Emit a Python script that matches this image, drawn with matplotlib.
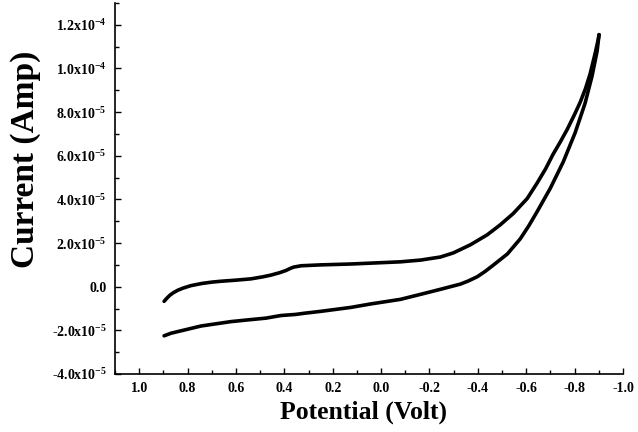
import matplotlib
matplotlib.use("Agg")
import matplotlib.pyplot as plt
from matplotlib.ticker import MultipleLocator, FuncFormatter

# ---- data (potential in V, current in A) ----
potential_fwd = [0.897, 0.885, 0.872, 0.858, 0.840, 0.820, 0.786, 0.740, 0.700,
                 0.662, 0.600, 0.538, 0.490, 0.456, 0.420, 0.394, 0.375, 0.361,
                 0.330, 0.250, 0.126, 0.002, -0.080, -0.163, -0.245, -0.299,
                 -0.369, -0.439, -0.493, -0.546, -0.604, -0.645, -0.680, -0.711,
                 -0.740, -0.769, -0.800, -0.823, -0.845, -0.864, -0.885, -0.897,
                 -0.901]
current_fwd = [-0.67e-5, -0.52e-5, -0.38e-5, -0.27e-5, -0.16e-5, -0.07e-5,
               0.05e-5, 0.15e-5, 0.21e-5, 0.25e-5, 0.30e-5, 0.36e-5, 0.45e-5,
               0.53e-5, 0.64e-5, 0.74e-5, 0.84e-5, 0.90e-5, 0.96e-5, 1.00e-5,
               1.04e-5, 1.10e-5, 1.14e-5, 1.22e-5, 1.36e-5, 1.55e-5, 1.92e-5,
               2.38e-5, 2.84e-5, 3.35e-5, 4.04e-5, 4.75e-5, 5.40e-5, 6.07e-5,
               6.62e-5, 7.20e-5, 7.90e-5, 8.45e-5, 9.08e-5, 9.75e-5, 10.70e-5,
               11.30e-5, 11.55e-5]

potential_rev = [-0.901, -0.893, -0.872, -0.843, -0.802, -0.753, -0.699, -0.645,
                 -0.610, -0.575, -0.522, -0.464, -0.430, -0.398, -0.360, -0.328,
                 -0.245, -0.163, -0.080, 0.043, 0.126, 0.250, 0.320, 0.353,
                 0.414, 0.476, 0.550, 0.621, 0.744, 0.868, 0.897]
current_rev = [11.55e-5, 10.80e-5, 9.65e-5, 8.40e-5, 7.05e-5, 5.72e-5, 4.50e-5,
               3.44e-5, 2.78e-5, 2.19e-5, 1.50e-5, 0.99e-5, 0.70e-5, 0.46e-5,
               0.26e-5, 0.12e-5, -0.12e-5, -0.35e-5, -0.58e-5, -0.79e-5,
               -0.95e-5, -1.13e-5, -1.22e-5, -1.27e-5, -1.32e-5, -1.44e-5,
               -1.52e-5, -1.60e-5, -1.80e-5, -2.13e-5, -2.25e-5]

x_label = "Potential (Volt)"
y_label = "Current (Amp)"

plt.rcParams['font.family'] = ['Liberation Serif', 'DejaVu Serif']
plt.rcParams['font.weight'] = 'bold'
plt.rcParams['mathtext.default'] = 'regular'

W, H = 638, 432
fig = plt.figure(figsize=(W / 100, H / 100), dpi=100)
left, right, top, bottom = 115, 623, 3, 374
ax = fig.add_axes([left / W, 1 - bottom / H, (right - left) / W, (bottom - top) / H])

ax.plot(potential_fwd, current_fwd, color='black', lw=2.6,
        solid_joinstyle='round', solid_capstyle='round')
ax.plot(potential_rev, current_rev, color='black', lw=2.6,
        solid_joinstyle='round', solid_capstyle='round')

ax.set_xlim(1.1, -1.0)
ax.set_ylim(-4e-5, 1.3e-4)

ax.spines['top'].set_visible(False)
ax.spines['right'].set_visible(False)
for s in ('left', 'bottom'):
    ax.spines[s].set_linewidth(1.2)

ax.xaxis.set_major_locator(MultipleLocator(0.2))
ax.xaxis.set_minor_locator(MultipleLocator(0.1))
ax.yaxis.set_major_locator(MultipleLocator(2e-5))
ax.yaxis.set_minor_locator(MultipleLocator(1e-5))


def yfmt(v, pos):
    if abs(v) < 1e-12:
        return '0.0'
    exp = -5 if abs(v) < 9.99e-5 else -4
    mant = v / 10 ** exp
    return f'{mant:.1f}x10$^{{{exp}}}$'


def xfmt(v, pos):
    if abs(v) < 1e-9:
        return '0.0'
    return f'{v:.1f}'


ax.yaxis.set_major_formatter(FuncFormatter(yfmt))
ax.xaxis.set_major_formatter(FuncFormatter(xfmt))

ax.tick_params(which='both', direction='in', width=1.0)
ax.tick_params(which='major', length=4)
ax.tick_params(which='minor', length=3)
ax.tick_params(axis='y', which='major', pad=6, labelsize=10)
ax.tick_params(axis='x', which='major', pad=6, labelsize=10)
for lab in ax.get_xticklabels() + ax.get_yticklabels():
    lab.set_fontweight('bold')

fig.text(26 / W, 1 - 159 / H, y_label, rotation=90, ha='center', va='center',
         fontsize=24, fontweight='bold')
fig.text(364 / W, 1 - 412 / H, x_label, ha='center', va='center',
         fontsize=18.5, fontweight='bold')

fig.savefig('out.png', dpi=100)
